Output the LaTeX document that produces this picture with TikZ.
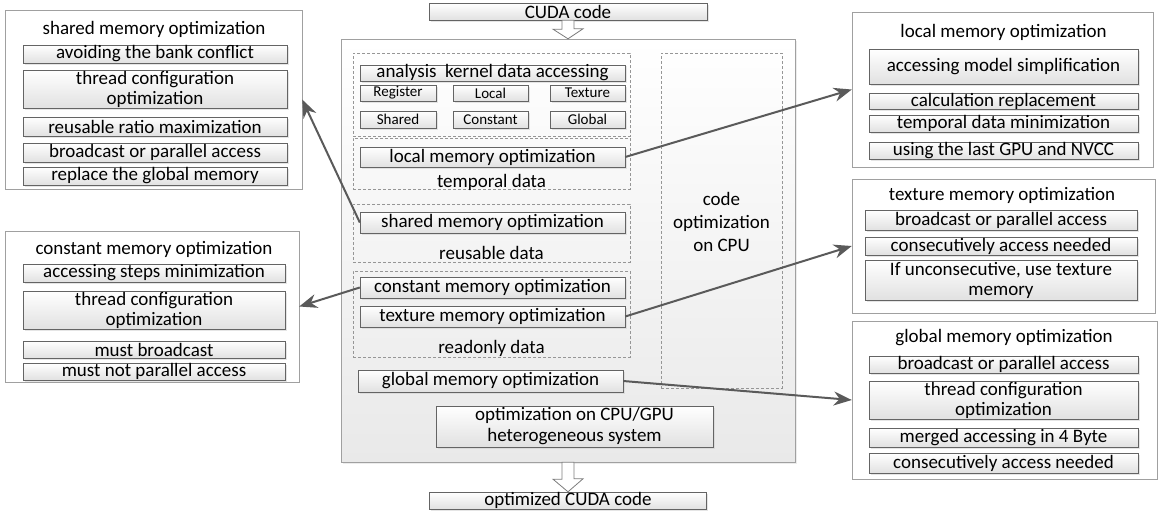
\documentclass[tikz,border=0pt]{standalone}
\usepackage{fontspec}
\setmainfont{Carlito}
\usetikzlibrary{arrows.meta,shadows,calc}

\begin{document}
\begin{tikzpicture}[x=1pt,y=-1pt]
	\definecolor{panelColour}{RGB}{160, 160, 160}
	\definecolor{groupColour}{RGB}{150, 150, 150}
	\definecolor{itemColour}{RGB}{100, 100, 100}
	\definecolor{itemFill}{RGB}{225, 225, 225}
	\definecolor{mainFill}{RGB}{233, 233, 233}
	\definecolor{arrowColour}{RGB}{90, 90, 90}
	\definecolor{blockColour}{RGB}{125, 125, 125}
	\tikzstyle{panel}=[draw=panelColour, fill=white, inner sep=0pt]
	\tikzstyle{dashgroup}=[draw=groupColour, dash pattern=on 3pt off 2pt, inner sep=0pt]
	\tikzstyle{itembox}=[draw=itemColour, top color=white, bottom color=itemFill, drop shadow={shadow xshift=1.5pt, shadow yshift=-1.5pt, fill=gray!40}, inner sep=0pt, font=\fontsize{19}{20}\selectfont, align=center]
	\tikzstyle{smallbox}=[itembox, font=\fontsize{15}{16}\selectfont]
	\tikzstyle{caption}=[inner sep=0pt, font=\fontsize{19}{20}\selectfont, align=center]
	\tikzstyle{link}=[-{Stealth[length=18pt, width=14pt]}, draw=arrowColour, fill=arrowColour, line width=2pt]
	\tikzstyle{blockarrow}=[draw=blockColour, line width=0.8pt, fill=white]

	\useasboundingbox (0,0) rectangle (1161,514);

	% centre column
	\node [itembox, minimum width=278, minimum height=17] (cuda) at (568,11.5) {CUDA code};
	\node [draw=panelColour, top color=white, bottom color=mainFill, drop shadow={shadow xshift=1.5pt, shadow yshift=-1.5pt, fill=gray!30}, minimum width=454, minimum height=423, inner sep=0pt] (mainBox) at (568,250.5) {};
	\node [itembox, minimum width=277, minimum height=17] (outCuda) at (568,500.5) {optimized CUDA code};

	\node [dashgroup, minimum width=277, minimum height=83] (accessGroup) at (491.5,94.5) {};
	\node [dashgroup, minimum width=277, minimum height=51] (temporalGroup) at (491.5,163.5) {};
	\node [dashgroup, minimum width=277, minimum height=58] (reusableGroup) at (491.5,233) {};
	\node [dashgroup, minimum width=277, minimum height=86] (readonlyGroup) at (491.5,314) {};
	\node [dashgroup, minimum width=121, minimum height=335] (cpuGroup) at (721.5,220.5) {};

	\node [itembox, minimum width=265, minimum height=16] (analysis) at (492.5,73) {analysis~ kernel data accessing};
	\node [smallbox, minimum width=76, minimum height=16] (register) at (398,93) {Register};
	\node [smallbox, minimum width=75, minimum height=16] (local) at (490.5,93) {Local};
	\node [smallbox, minimum width=75, minimum height=16] (texture) at (587.5,93) {Texture};
	\node [smallbox, minimum width=76, minimum height=17] (shared) at (398,119.5) {Shared};
	\node [smallbox, minimum width=75, minimum height=17] (constant) at (490.5,119.5) {Constant};
	\node [smallbox, minimum width=75, minimum height=17] (global) at (587.5,119.5) {Global};

	\node [itembox, minimum width=265, minimum height=20] (lmo) at (492.5,157) {local memory optimization};
	\node [caption] (temporal) at (491.5,182) {temporal data};
	\node [itembox, minimum width=265, minimum height=21] (smo) at (492.5,222.5) {shared memory optimization};
	\node [caption] (reusable) at (491.5,253) {reusable data};
	\node [itembox, minimum width=265, minimum height=21] (cmo) at (492.5,287.5) {constant memory optimization};
	\node [itembox, minimum width=265, minimum height=21] (tmo) at (492.5,316.5) {texture memory optimization};
	\node [caption] (readonly) at (491.5,348) {readonly data};
	\node [itembox, minimum width=265, minimum height=22] (gmo) at (490.5,381) {global memory optimization};
	\node [itembox, minimum width=277, minimum height=41, font=\fontsize{19}{21}\selectfont] (hetero) at (574.5,426.5) {optimization on CPU/GPU\\heterogeneous system};
	\node [caption, font=\fontsize{19}{23}\selectfont] (cpu) at (721.5,222) {code\\optimization\\on CPU};

	\draw [blockarrow] ($(cuda.south)+(-6,0)$) -- ++(0,9) -- ++(-9,0) -- (mainBox.north) -- ++(15,-10) -- ++(-9,0) -- ($(cuda.south)+(6,0)$) -- cycle;
	\draw [blockarrow] ($(mainBox.south)+(-6,0)$) -- ++(0,17) -- ++(-9,0) -- (outCuda.north) -- ++(15,-13) -- ++(-9,0) -- ($(mainBox.south)+(6,0)$) -- cycle;

	% left panels
	\node [panel, minimum width=297, minimum height=179] (sharedPanel) at (153.5,99.5) {};
	\node [caption] (sharedTitle) at (154,29) {shared memory optimization};
	\node [itembox, minimum width=264, minimum height=18] (s1) at (155,54) {avoiding the bank conflict};
	\node [itembox, minimum width=264, minimum height=38] (s2) at (155,89) {thread configuration\\optimization};
	\node [itembox, minimum width=264, minimum height=19] (s3) at (155,126.5) {reusable ratio maximization};
	\node [itembox, minimum width=264, minimum height=19] (s4) at (155,152.5) {broadcast or parallel access};
	\node [itembox, minimum width=264, minimum height=18] (s5) at (155,176) {replace the global memory};

	\node [panel, minimum width=294, minimum height=151] (constPanel) at (152,306.5) {};
	\node [caption] (constTitle) at (154,249) {constant memory optimization};
	\node [itembox, minimum width=262, minimum height=18] (c1) at (154,273) {accessing steps minimization};
	\node [itembox, minimum width=262, minimum height=38] (c2) at (154,310) {thread configuration\\optimization};
	\node [itembox, minimum width=262, minimum height=17] (c3) at (154,349.5) {must broadcast};
	\node [itembox, minimum width=262, minimum height=17] (c4) at (154,371.5) {must not parallel access};

	% right panels
	\node [panel, minimum width=301, minimum height=155] (localPanel) at (1002.5,89.5) {};
	\node [caption] (localTitle) at (1003.5,32) {local memory optimization};
	\node [itembox, minimum width=269, minimum height=35] (l1) at (1003.5,66.5) {accessing model simplification};
	\node [itembox, minimum width=269, minimum height=16] (l2) at (1003.5,101) {calculation replacement};
	\node [itembox, minimum width=269, minimum height=17] (l3) at (1003.5,123.5) {temporal data minimization};
	\node [itembox, minimum width=269, minimum height=17] (l4) at (1003.5,150.5) {using the last GPU and NVCC};

	\node [panel, minimum width=303, minimum height=134] (texPanel) at (1003.5,246) {};
	\node [caption] (texTitle) at (1002,195) {texture memory optimization};
	\node [itembox, minimum width=272, minimum height=20] (t1) at (1001,220) {broadcast or parallel access};
	\node [itembox, minimum width=272, minimum height=18] (t2) at (1001,246) {consecutively access needed};
	\node [itembox, minimum width=272, minimum height=40] (t3) at (1001,280) {If unconsecutive, use texture\\memory};

	\node [panel, minimum width=305, minimum height=158] (globPanel) at (1004.5,400) {};
	\node [caption] (globTitle) at (1004,338) {global memory optimization};
	\node [itembox, minimum width=269, minimum height=17] (g1) at (1003.5,364.5) {broadcast or parallel access};
	\node [itembox, minimum width=269, minimum height=38] (g2) at (1003.5,400) {thread configuration\\optimization};
	\node [itembox, minimum width=269, minimum height=19] (g3) at (1003.5,437.5) {merged accessing in 4 Byte};
	\node [itembox, minimum width=269, minimum height=20] (g4) at (1003.5,463) {consecutively access needed};

	% connections
	\draw [link] (smo.west) -- (sharedPanel.east);
	\draw [link] (cmo.west) -- (constPanel.east);
	\draw [link] (lmo.east) -- (localPanel.west);
	\draw [link] (tmo.east) -- (texPanel.west);
	\draw [link] (gmo.east) -- (globPanel.west);
\end{tikzpicture}
\end{document}
